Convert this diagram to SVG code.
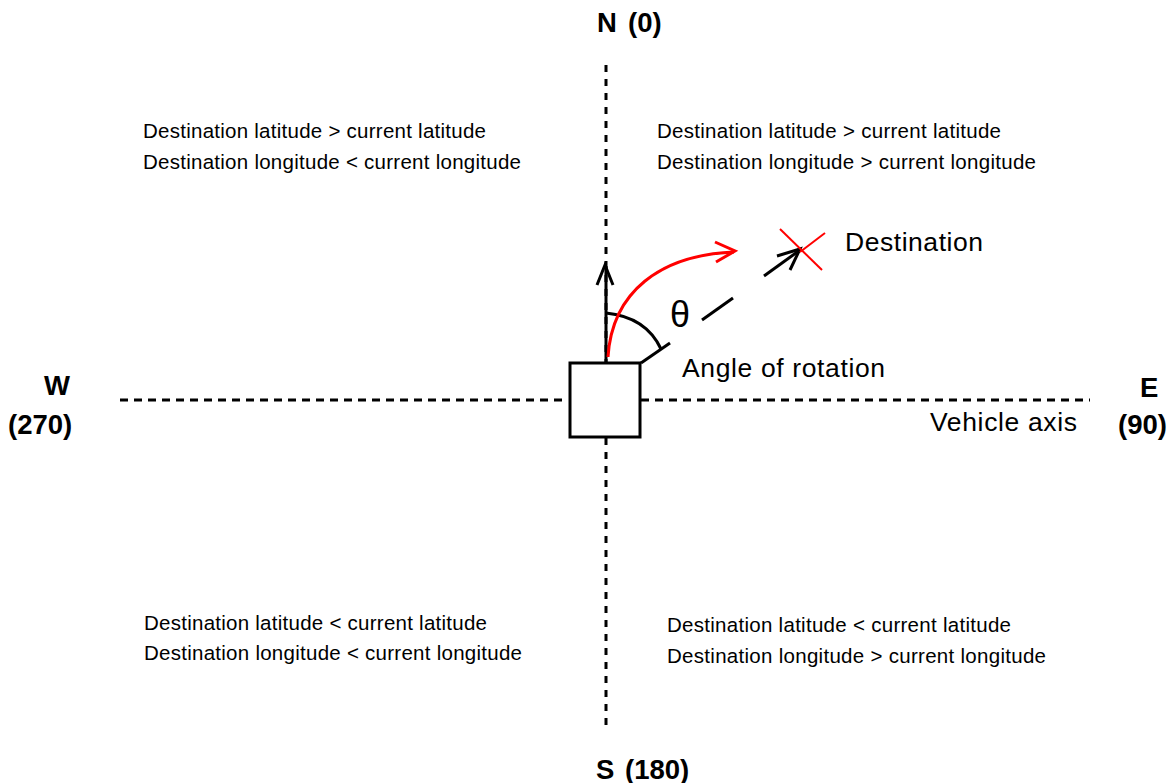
<svg xmlns="http://www.w3.org/2000/svg" width="1171" height="783" viewBox="0 0 1171 783">
<style>
.axis{stroke:#000;stroke-width:3;fill:none}
.ln{stroke:#000;stroke-width:3;fill:none;stroke-linecap:butt}
.red{stroke:#ff0000;stroke-width:3;fill:none}
.sm{font-family:"Liberation Sans",Arial,sans-serif;font-size:20.5px;fill:#000}
.lg{font-family:"Liberation Sans",Arial,sans-serif;font-size:26.5px;fill:#000}
.bd{font-family:"Liberation Sans",Arial,sans-serif;font-size:27.5px;font-weight:bold;fill:#000}
</style>
<rect width="1171" height="783" fill="#fff"/>
<g id="connectors">
  <line class="axis" x1="606" y1="65" x2="606" y2="362" stroke-dasharray="7,7"/>
  <line class="axis" x1="606" y1="438" x2="606" y2="732" stroke-dasharray="7,7"/>
  <line class="axis" x1="120" y1="400" x2="568" y2="400" stroke-dasharray="8,6"/>
  <line class="axis" x1="641" y1="400" x2="1090" y2="400" stroke-dasharray="8,6"/>
  <line class="ln" x1="606" y1="363" x2="606" y2="266"/>
  <polyline class="ln" points="597,285 605,265 613,285"/>
  <path class="ln" d="M606,313 Q646,317 661,349"/>
  <line class="ln" x1="641" y1="363" x2="670" y2="343"/>
  <line class="ln" x1="702" y1="320" x2="733" y2="298"/>
  <line class="ln" x1="764" y1="276" x2="800" y2="250"/>
  <polyline class="ln" points="777,256 800,249 790,270"/>
  <path class="red" d="M608,357 C612,292 660,255 734,252"/>
  <polyline class="red" points="715,242 735,251 716,262"/>
</g>
<g id="vehicle">
  <rect x="570" y="363" width="70" height="74" fill="#fff" stroke="#000" stroke-width="3"/>
</g>
<g id="destination">
  <line x1="780" y1="229" x2="822" y2="270" stroke="#ff0000" stroke-width="2"/>
  <line x1="825" y1="233" x2="800" y2="252" stroke="#ff0000" stroke-width="2"/>
  <text class="lg" x="845" y="251" textLength="138" lengthAdjust="spacing">Destination</text>
</g>
<g id="theta"><text class="lg" x="670" y="327" style="font-size:36px">θ</text></g>
<g id="angle-label"><text class="lg" x="682" y="377" textLength="203" lengthAdjust="spacing">Angle of rotation</text></g>
<g id="vehicle-axis"><text class="lg" x="930" y="431" textLength="147" lengthAdjust="spacing">Vehicle axis</text></g>
<g id="north"><text class="bd" x="597" y="32">N<tspan x="628">(0)</tspan></text></g>
<g id="south"><text class="bd" x="596" y="779">S<tspan x="625">(180)</tspan></text></g>
<g id="west"><text class="bd" x="44" y="395">W</text><text class="bd" x="8" y="434">(270)</text></g>
<g id="east"><text class="bd" x="1140" y="397">E</text><text class="bd" x="1118" y="434">(90)</text></g>
<g id="q-nw">
  <text class="sm" x="143" y="138" textLength="343" lengthAdjust="spacing">Destination latitude &gt; current latitude</text>
  <text class="sm" x="143" y="169" textLength="378" lengthAdjust="spacing">Destination longitude &lt; current longitude</text>
</g>
<g id="q-ne">
  <text class="sm" x="657" y="138" textLength="344" lengthAdjust="spacing">Destination latitude &gt; current latitude</text>
  <text class="sm" x="657" y="169" textLength="379" lengthAdjust="spacing">Destination longitude &gt; current longitude</text>
</g>
<g id="q-sw">
  <text class="sm" x="144" y="630" textLength="343" lengthAdjust="spacing">Destination latitude &lt; current latitude</text>
  <text class="sm" x="144" y="660" textLength="378" lengthAdjust="spacing">Destination longitude &lt; current longitude</text>
</g>
<g id="q-se">
  <text class="sm" x="667" y="632" textLength="344" lengthAdjust="spacing">Destination latitude &lt; current latitude</text>
  <text class="sm" x="667" y="663" textLength="379" lengthAdjust="spacing">Destination longitude &gt; current longitude</text>
</g>
</svg>
